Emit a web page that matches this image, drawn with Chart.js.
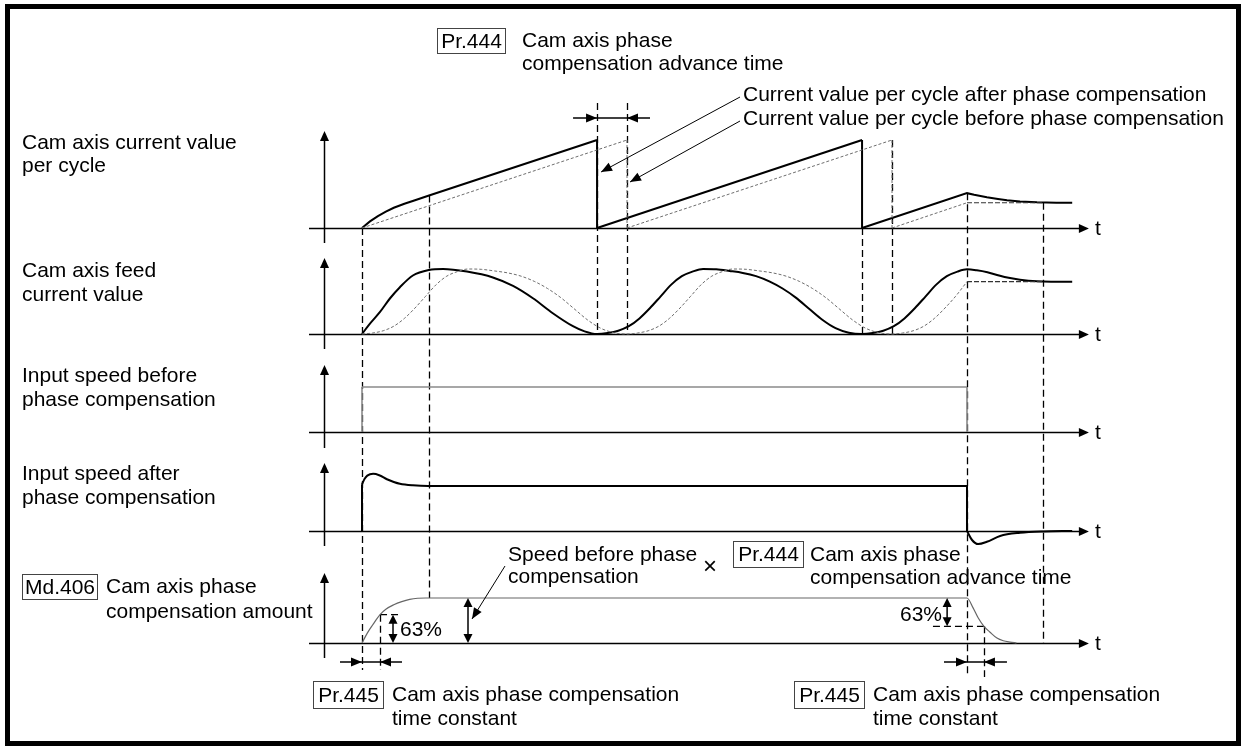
<!DOCTYPE html>
<html><head><meta charset="utf-8">
<script src="https://cdn.jsdelivr.net/npm/chart.js@4/dist/chart.umd.min.js"></script>
<style>html,body{margin:0;padding:0;background:#fff}canvas{display:block}</style>
</head><body>
<canvas id="c" width="1247" height="749"></canvas>
<script>
// ---------- DATA (time t in ms, one cam cycle = 100 ms; values in % of full scale) ----------
// Panel 1: cam axis current value per cycle
const cycleAfter  = [[0,0],[3,7.5],[6,13.5],[9,18.5],[12,23],[16,27.5],[20,31.5],[25.3,37],[88.7,100],[88.7,0],[188.7,100],[188.7,0],[228.3,39.6],[231,37.8],[235.8,35],[240,33],[243.4,31.6],[248.3,30.2],[254.7,29.2],[262,28.8],[268,28.7]];
const cycleBefore = [[0,0],[100,100],[100,0],[200,100],[200,0],[228.3,28.7]];
const cycleHold   = [[228.3,28.7],[257,28.7]];
// Panel 2: cam axis feed current value
const feedAfter = [[0,0],[3,16],[6.8,34],[10.6,55],[14.3,72],[19.2,90],[25.3,98.5],[30.6,100],[39.6,96],[49.4,87],[57,74],[64.5,55],[72,32],[79.6,12],[84,4],[88.7,0],
  [92.7,1.5],[96.7,5],[100.7,12],[104.7,24],[108.7,40],[112.7,58],[116.7,76],[120.7,89],[124.7,96],[128.7,100],[133.7,99.5],[138.7,97],[143.7,94],[148.7,89],[153.7,81],[158.7,70],[163.7,56],[168.7,39],[173.7,22],[178.7,9],[183.7,2],[188.7,0],
  [192.7,1.5],[196.7,5],[200.7,12],[204.7,24],[208.7,40],[212.7,58],[216.7,76],[220.7,89],[224.7,96],[228.3,99.5],[232,98],[236,95],[240,90.5],[244,86.5],[248.3,83.5],[254.7,81],[260,80.5],[268,80.5]];
const feedBefore = [[0,0],[4,1.5],[8,5],[12,12],[16,24],[20,40],[24,58],[28,76],[32,89],[36,96],[40,100],[45,99.5],[50,97],[55,94],[60,89],[65,81],[70,70],[75,56],[80,39],[85,22],[90,9],[95,2],[100,0],
  [104,1.5],[108,5],[112,12],[116,24],[120,40],[124,58],[128,76],[132,89],[136,96],[140,100],[145,99.5],[150,97],[155,94],[160,89],[165,81],[170,70],[175,56],[180,39],[185,22],[190,9],[195,2],[200,0],
  [204,1.5],[208,5],[212,12],[216,24],[220,40],[224,58],[228.3,80.5]];
const feedHold = [[228.3,80.5],[257,80.5]];
// Panel 3: input speed before phase compensation
const speedBefore = [[0,0],[0,100],[228.3,100],[228.3,0]];
// Panel 4: input speed after phase compensation
const speedAfter = [[0,0],[0,104],[1,116],[2,123],[4.2,127],[6.5,124],[9.4,115],[12,109],[14.3,105],[19.2,101.5],[25,100],[228.3,100],[228.3,0],[230.2,-20],[232.5,-29],[235.8,-24],[240.8,-11],[248.3,-4],[257,-1],[268,0]];
// Panel 5: Md.406 cam axis phase compensation amount
const compAmount = [[0,0],[2,22],[4,40],[6.8,63],[9,75],[12,85],[15,92],[18,97],[21,99.5],[24,100],[228.3,100],[230.6,78],[232.5,56],[234.7,37],[237,24],[239.6,11],[242,5],[244.5,2],[247,0]];
// Key times (ms)
const tStart = 0, tTau = 6.8, tSettle = 25.3, tAfterWrap = [88.7, 188.7], tBeforeWrap = [100, 200], tStop = 228.3, tStopTau = 234.7, tEnd = 257;
const pct63 = 63;

// ---------- LAYOUT ----------
const W = 1247, H = 749;
const X0 = 362, PXU = 2.65;           // pixel of t=0, pixels per ms
const panels = [
  {id:'y1', base:228, full:140, axTop:131, axBot:243},
  {id:'y2', base:334, full:269, axTop:258, axBot:349},
  {id:'y3', base:432, full:387, axTop:365, axBot:448},
  {id:'y4', base:531, full:486, axTop:463, axBot:546},
  {id:'y5', base:643, full:598, axTop:573, axBot:658}
];
function panelScale(p){ const u=(p.base-p.full)/100; return {type:'linear', display:false, min:-(H-p.base)/u, max:p.base/u}; }

const FONT = '21px "Liberation Sans", Arial, sans-serif';
const BLACK = '#000', GREY = '#7a7a7a';

function splitRuns(pts){
  const runs=[]; let cur=[pts[0]];
  for(let i=1;i<pts.length;i++){
    const p=pts[i], q=pts[i-1];
    if(p[0]===q[0]){
      if(cur.length>1) runs.push({pts:cur,vertical:false});
      runs.push({pts:[q,p],vertical:true});
      cur=[p];
    } else cur.push(p);
  }
  if(cur.length>1) runs.push({pts:cur,vertical:false});
  return runs;
}
const datasets=[];
function addSeries(pts, axis, color, width, dash, smooth){
  for(const r of splitRuns(pts)){
    datasets.push({data:r.pts.map(p=>({x:p[0],y:p[1]})), yAxisID:axis, borderColor:color, borderWidth:width,
      borderDash:dash, pointRadius:0, fill:false, tension:0, borderCapStyle:'butt', borderJoinStyle:'miter',
      cubicInterpolationMode:(smooth && !r.vertical)?'monotone':'default'});
  }
}
addSeries(cycleBefore,'y1','#6e6e6e',1,[3,2],false);
addSeries(cycleHold,'y1','#333',1.2,[5,2],false);
addSeries(cycleAfter,'y1',BLACK,2,[],false);
addSeries(feedBefore,'y2','#6e6e6e',1,[3,2],true);
addSeries(feedHold,'y2','#333',1.2,[5,2],false);
addSeries(feedAfter,'y2',BLACK,2,[],true);
addSeries(speedBefore,'y3','#8a8a8a',1.6,[],false);
addSeries(speedAfter,'y4',BLACK,2,[],true);
addSeries(compAmount,'y5','#666',1.2,[],true);

function arrowHead(ctx,x,y,dx,dy,len,half){
  const L=Math.hypot(dx,dy); dx/=L; dy/=L;
  const bx=x-dx*len, by=y-dy*len;
  ctx.beginPath(); ctx.moveTo(x,y); ctx.lineTo(bx-dy*half,by+dx*half); ctx.lineTo(bx+dy*half,by-dx*half); ctx.closePath(); ctx.fill();
}
function line(ctx,x1,y1,x2,y2){ ctx.beginPath(); ctx.moveTo(x1,y1); ctx.lineTo(x2,y2); ctx.stroke(); }
function dblArrow(ctx,x,y1,y2){ ctx.lineWidth=1.5; line(ctx,x,y1+4,x,y2-4); arrowHead(ctx,x,y1,0,-1,9,4.5); arrowHead(ctx,x,y2,0,1,9,4.5); }
function boxed(ctx,label,x,y,w,h){
  ctx.save(); ctx.strokeStyle='#444'; ctx.lineWidth=1; ctx.strokeRect(x+.5,y+.5,w,h);
  ctx.textAlign='center'; ctx.fillText(label,x+w/2+.5,y+h/2+1.5); ctx.restore();
}

const deco = {
  id:'deco',
  beforeDraw(c){ const ctx=c.ctx; ctx.save(); ctx.fillStyle='#fff'; ctx.fillRect(0,0,W,H); ctx.restore(); },
  beforeDatasetsDraw(c){
    const ctx=c.ctx, X=v=>c.scales.x.getPixelForValue(v), Y=(k,v)=>c.scales['y'+k].getPixelForValue(v);
    ctx.save();
    // vertical dashed timing markers
    ctx.strokeStyle=BLACK; ctx.lineWidth=1.3; ctx.setLineDash([7,4]);
    const marks=[
      [tStart, Y(1,0), 670],
      [tSettle, Y(1,37), Y(5,100)],
      [tAfterWrap[0], 103, Y(2,0)],
      [tBeforeWrap[0], 103, Y(2,0)],
      [tAfterWrap[1], Y(1,0), Y(2,0)],
      [tBeforeWrap[1], Y(1,100), Y(2,0)],
      [tStop, Y(1,39.6), 677],
      [tStopTau, Y(5,100-pct63), 677],
      [tEnd, Y(1,28.7), Y(5,0)],
      [tTau, Y(5,pct63), 670]
    ];
    for(const [t,a,b] of marks) line(ctx,Math.round(X(t))+.5,a,Math.round(X(t))+.5,b);
    // 63% dashed level lines
    line(ctx,X(tTau),Y(5,pct63),X(tTau)+18,Y(5,pct63));
    line(ctx,X(tStopTau)-51,Y(5,100-pct63),X(tStopTau),Y(5,100-pct63));
    ctx.setLineDash([]);
    // axes
    ctx.fillStyle=BLACK; ctx.strokeStyle=BLACK; ctx.lineWidth=1.5;
    const xAx = Math.round(X(-14.3))+.5;
    ctx.font=FONT; ctx.textBaseline='middle'; ctx.textAlign='left';
    for(const p of panels){
      line(ctx,X(-20),p.base+.5,X(274.3)-8,p.base+.5);
      arrowHead(ctx,X(274.3),p.base+.5,1,0,10,4.5);
      line(ctx,xAx,p.axBot,xAx,p.axTop+8);
      arrowHead(ctx,xAx,p.axTop,0,-1,10,4.5);
      ctx.fillText('t',1095,p.base+1);
    }
    ctx.restore();
  },
  afterDatasetsDraw(c){
    const ctx=c.ctx, X=v=>c.scales.x.getPixelForValue(v), Y=(k,v)=>c.scales['y'+k].getPixelForValue(v);
    ctx.save();
    ctx.fillStyle=BLACK; ctx.strokeStyle=BLACK; ctx.font=FONT; ctx.textBaseline='middle'; ctx.textAlign='left';
    // left labels
    const T=(s,x,y)=>ctx.fillText(s,x,y);
    T('Cam axis current value',22,143); T('per cycle',22,166);
    T('Cam axis feed',22,271); T('current value',22,295);
    T('Input speed before',22,376); T('phase compensation',22,400);
    T('Input speed after',22,474); T('phase compensation',22,498);
    boxed(ctx,'Md.406',22,574,75,25); T('Cam axis phase',106,587); T('compensation amount',106,612);
    // top annotation
    boxed(ctx,'Pr.444',437,28,68,25); T('Cam axis phase',522,41); T('compensation advance time',522,64);
    T('Current value per cycle after phase compensation',743,95);
    T('Current value per cycle before phase compensation',743,119);
    ctx.lineWidth=1;
    line(ctx,740,97,X(tAfterWrap[0])+4,172); arrowHead(ctx,X(tAfterWrap[0])+4,172,-(740-X(tAfterWrap[0])-4),172-97,11,4.5);
    line(ctx,740,121,X(tBeforeWrap[0])+3,182); arrowHead(ctx,X(tBeforeWrap[0])+3,182,-(740-X(tBeforeWrap[0])-3),182-121,11,4.5);
    // advance time arrows
    ctx.lineWidth=1.5;
    line(ctx,X(tAfterWrap[0])-24,118,X(tBeforeWrap[0])+23,118);
    arrowHead(ctx,X(tAfterWrap[0]),118,1,0,11,4.5);
    arrowHead(ctx,X(tBeforeWrap[0]),118,-1,0,11,4.5);
    // time constant arrows
    const yA=662;
    line(ctx,X(tStart)-22,yA,X(tTau)+22,yA); arrowHead(ctx,X(tStart),yA,1,0,11,4.5); arrowHead(ctx,X(tTau),yA,-1,0,11,4.5);
    line(ctx,X(tStop)-23,yA,X(tStopTau)+23,yA); arrowHead(ctx,X(tStop),yA,1,0,11,4.5); arrowHead(ctx,X(tStopTau),yA,-1,0,11,4.5);
    // 63% / speed arrows
    dblArrow(ctx,X(11.7),Y(5,pct63),Y(5,0));
    dblArrow(ctx,X(40),Y(5,100),Y(5,0));
    dblArrow(ctx,X(220.8),Y(5,100),Y(5,100-pct63));
    T('63%',400,630);
    ctx.textAlign='right'; T('63%',942,615); ctx.textAlign='left';
    // speed x advance time
    T('Speed before phase',508,555); T('compensation',508,577);
    ctx.font='24px "Liberation Sans", Arial, sans-serif'; ctx.textAlign='center'; T('\u00d7',710,567); ctx.textAlign='left'; ctx.font=FONT;
    boxed(ctx,'Pr.444',733,541,70,26); T('Cam axis phase',810,555); T('compensation advance time',810,578);
    ctx.lineWidth=1; line(ctx,505,566,X(40)+4,619); arrowHead(ctx,X(40)+4,619,X(40)+4-505,619-566,11,4.5);
    // time constant labels
    boxed(ctx,'Pr.445',313,681,70,27); T('Cam axis phase compensation',392,695); T('time constant',392,719);
    boxed(ctx,'Pr.445',794,681,70,27); T('Cam axis phase compensation',873,695); T('time constant',873,719);
    // frame
    ctx.lineWidth=5; ctx.strokeRect(7.5,6.5,1231,737);
    ctx.restore();
  }
};

const scales = { x:{type:'linear', display:false, min:-X0/PXU, max:(W-X0)/PXU} };
for(const p of panels) scales[p.id]=panelScale(p);

new Chart(document.getElementById('c'), {
  type:'line',
  data:{datasets},
  options:{
    responsive:false, maintainAspectRatio:false, animation:false, events:[],
    layout:{padding:0}, parsing:true, normalized:true,
    scales,
    plugins:{legend:{display:false}, tooltip:{enabled:false}, title:{display:false}}
  },
  plugins:[deco]
});
</script>
</body></html>
